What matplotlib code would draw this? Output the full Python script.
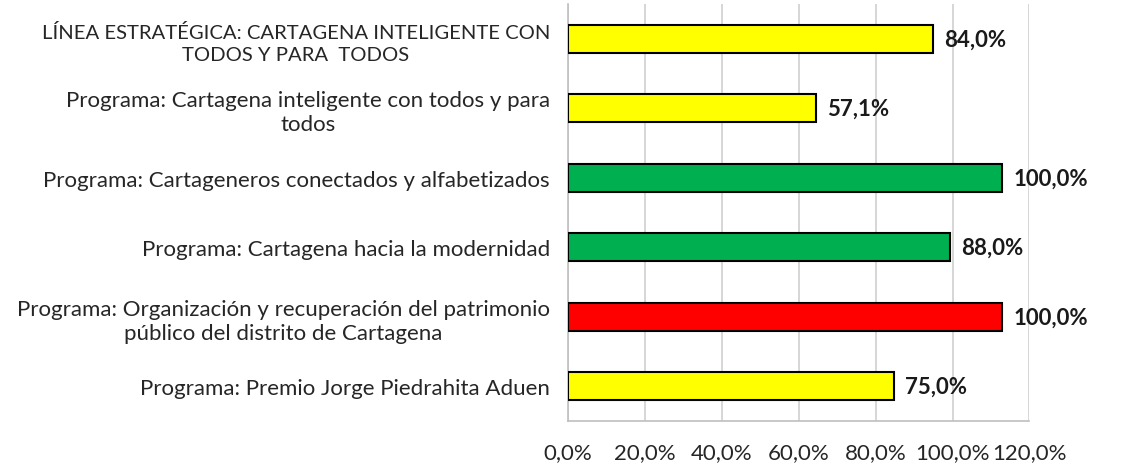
import matplotlib
matplotlib.use("Agg")
import matplotlib.pyplot as plt
import numpy as np

# data (top to bottom)
categorias = [
    "LÍNEA ESTRATÉGICA: CARTAGENA INTELIGENTE CON\nTODOS Y PARA  TODOS",
    "Programa: Cartagena inteligente con todos y para\ntodos",
    "Programa: Cartageneros conectados y alfabetizados",
    "Programa: Cartagena hacia la modernidad",
    "Programa: Organización y recuperación del patrimonio\npúblico del distrito de Cartagena",
    "Programa: Premio Jorge Piedrahita Aduen",
]
valores = [84.0, 57.1, 100.0, 88.0, 100.0, 75.0]
colores = ["#FFFF00", "#FFFF00", "#00B050", "#00B050", "#FF0000", "#FFFF00"]
etiquetas_x = ["0,0%", "20,0%", "40,0%", "60,0%", "80,0%", "100,0%", "120,0%"]

plt.rcParams["font.family"] = ["Lato", "DejaVu Sans"]

fig = plt.figure(figsize=(11.25, 4.64), dpi=100)
ax = fig.add_axes([0.505, 0.0905, 0.41, 0.8985])

y = np.arange(len(categorias))
ax.barh(y, valores, height=0.4, color=colores, edgecolor="black", linewidth=1.5, zorder=3)

for yi, v in zip(y, valores):
    ax.text(v + 2.6, yi, f"{v:.1f}%".replace(".", ","), va="center", ha="left",
            fontsize=16, fontweight="bold", color="#1a1a1a", zorder=4)

xmax = 106.2
ax.set_xlim(0, xmax)
ax.set_ylim(len(categorias) - 0.5, -0.5)
ax.set_xticks(np.linspace(0, xmax, len(etiquetas_x)))
ax.set_xticklabels(etiquetas_x, fontsize=16, color="#262626")
ax.set_yticks(y)
ax.set_yticklabels(categorias, fontsize=16, color="#262626")
for t in ax.get_yticklabels():
    t.set_multialignment("center")
    t.set_linespacing(1.25)
# uppercase line is wider in this font, shrink it to fit
ax.get_yticklabels()[0].set_fontsize(14.6)
ax.get_yticklabels()[0].set_linespacing(1.4)

ax.tick_params(axis="x", length=0, pad=15.5)
ax.tick_params(axis="y", length=0, pad=13)
ax.grid(axis="x", color="#D0D0D0", linewidth=1.2, zorder=0)
ax.set_axisbelow(True)
for s in ["top", "right"]:
    ax.spines[s].set_visible(False)
for s in ["left", "bottom"]:
    ax.spines[s].set_color("#BFBFBF")
    ax.spines[s].set_linewidth(1.2)

fig.savefig("out.png", dpi=100)
